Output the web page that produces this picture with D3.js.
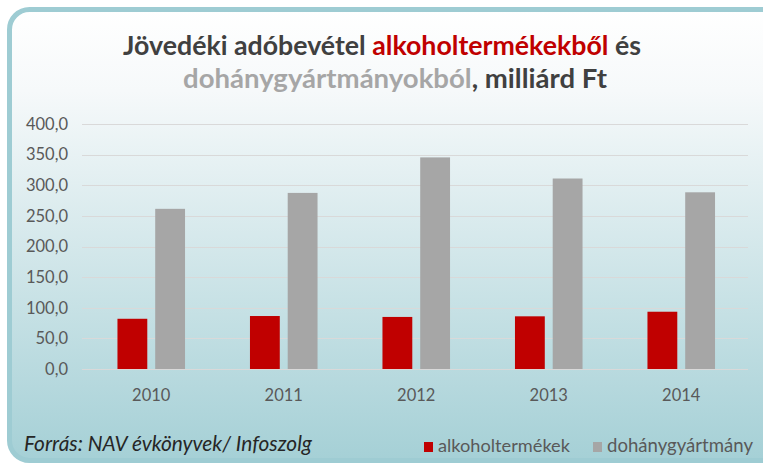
<!DOCTYPE html>
<html>
<head>
<meta charset="utf-8">
<script src="https://cdn.jsdelivr.net/npm/d3@7"></script>
<style>
  body { margin: 0; background: #fff; }
  svg { display: block; }
</style>
</head>
<body>
<div id="chart"></div>
<script>
const years = ['2010', '2011', '2012', '2013', '2014'];
const seriesNames = ['alkoholtermékek', 'dohánygyártmány'];
const alcohol = [82.0, 86.5, 85.0, 86.0, 93.5];
const tobacco = [261.5, 287.5, 345.5, 311.0, 288.5];
const yTicks = [0, 50, 100, 150, 200, 250, 300, 350, 400];
const colors = ['#C00000', '#A6A6A6'];

const W = 763, H = 464;
const margin = { top: 124, right: 15, bottom: 95, left: 82 };
const font = 'Lato, "Open Sans", sans-serif';

const svg = d3.select('#chart').append('svg')
  .attr('width', W)
  .attr('height', H);

// background panel
const grad = svg.append('defs').append('linearGradient')
  .attr('id', 'bg')
  .attr('x1', 0).attr('y1', 0).attr('x2', 0).attr('y2', 1);
grad.append('stop').attr('offset', '0%').attr('stop-color', '#FFFFFF');
grad.append('stop').attr('offset', '18%').attr('stop-color', '#F6F9FA');
grad.append('stop').attr('offset', '100%').attr('stop-color', '#A5D0D6');

svg.append('rect')
  .attr('x', 9.5).attr('y', 9.5)
  .attr('width', 790).attr('height', 451)
  .attr('rx', 20).attr('ry', 20)
  .attr('fill', 'url(#bg)')
  .attr('stroke', '#9ECCD3')
  .attr('stroke-width', 5);

const width = W - margin.left - margin.right;
const height = H - margin.top - margin.bottom;

const chart = svg.append('g')
  .attr('transform', `translate(${margin.left},${margin.top})`);

const x0 = d3.scaleBand().domain(years).range([3, width - 0.5]).padding(0);
const x1 = d3.scaleBand().domain(seriesNames).range([0, x0.bandwidth()])
  .paddingInner(0.21).paddingOuter(0.86);
const y = d3.scaleLinear().domain([0, 400]).range([height, 0]);

// gridlines
chart.selectAll('.grid')
  .data(yTicks)
  .join('line')
  .attr('class', 'grid')
  .attr('x1', 0).attr('x2', width)
  .attr('y1', d => Math.round(y(d)) + 0.5)
  .attr('y2', d => Math.round(y(d)) + 0.5)
  .attr('stroke', '#D9D9D9')
  .attr('stroke-width', 1);

// y axis
const yAxis = d3.axisLeft(y).tickValues(yTicks)
  .tickFormat(d => d3.format('.1f')(d).replace('.', ','))
  .tickSize(0).tickPadding(14);
const yAxisG = chart.append('g').call(yAxis);
yAxisG.select('.domain').remove();
yAxisG.selectAll('text')
  .attr('font-family', font)
  .attr('font-size', 16.5)
  .attr('fill', '#595959');

// x axis
const xAxis = d3.axisBottom(x0).tickSize(0).tickPadding(20);
const xAxisG = chart.append('g')
  .attr('transform', `translate(0,${height})`)
  .call(xAxis);
xAxisG.select('.domain').remove();
xAxisG.selectAll('text')
  .attr('font-family', font)
  .attr('font-size', 16.5)
  .attr('fill', '#595959');

// bars
const rows = years.map((yr, i) => ({ year: yr, values: [alcohol[i], tobacco[i]] }));
const groups = chart.selectAll('.group')
  .data(rows)
  .join('g')
  .attr('class', 'group')
  .attr('transform', d => `translate(${x0(d.year)},0)`);

groups.selectAll('rect')
  .data(d => d.values.map((v, k) => ({ key: seriesNames[k], value: v, k })))
  .join('rect')
  .attr('x', d => x1(d.key))
  .attr('width', x1.bandwidth())
  .attr('y', d => y(d.value))
  .attr('height', d => height - y(d.value))
  .attr('fill', d => colors[d.k]);

// fit a text element to a target width by scaling its font size
function fitLine(sel, target) {
  const len = sel.node().getComputedTextLength();
  const fs = parseFloat(sel.attr('font-size'));
  sel.attr('font-size', fs * target / len);
}

// title
const t1 = svg.append('text')
  .attr('x', 382).attr('y', 55)
  .attr('text-anchor', 'middle')
  .attr('font-family', font)
  .attr('font-weight', 'bold')
  .attr('font-size', 22)
  .attr('fill', '#404040');
t1.append('tspan').text('Jövedéki adóbevétel ');
t1.append('tspan').attr('fill', '#C00000').text('alkoholtermékekből');
t1.append('tspan').text(' és');
fitLine(t1, 518);

const t2 = svg.append('text')
  .attr('x', 395).attr('y', 88)
  .attr('text-anchor', 'middle')
  .attr('font-family', font)
  .attr('font-weight', 'bold')
  .attr('font-size', 22)
  .attr('fill', '#404040');
t2.append('tspan').attr('fill', '#A6A6A6').text('dohánygyártmányokból');
t2.append('tspan').text(', milliárd Ft');
fitLine(t2, 424);

// source
const src = svg.append('text')
  .attr('x', 24).attr('y', 451)
  .attr('font-family', font)
  .attr('font-style', 'italic')
  .attr('font-size', 16)
  .attr('fill', '#262626')
  .text('Forrás: NAV évkönyvek/ Infoszolg');
fitLine(src, 288);

// legend
const legendX = [424, 593];
const legendW = [132, 146];
const legend = svg.selectAll('.legend')
  .data(seriesNames)
  .join('g')
  .attr('class', 'legend')
  .attr('transform', (d, i) => `translate(${legendX[i]},442)`);
legend.append('rect')
  .attr('width', 9).attr('height', 10)
  .attr('fill', (d, i) => colors[i]);
legend.append('text')
  .attr('x', 14).attr('y', 10)
  .attr('font-family', font)
  .attr('font-size', 16)
  .attr('fill', '#595959')
  .text(d => d)
  .each(function(d, i) { fitLine(d3.select(this), legendW[i]); });
</script>
</body>
</html>
